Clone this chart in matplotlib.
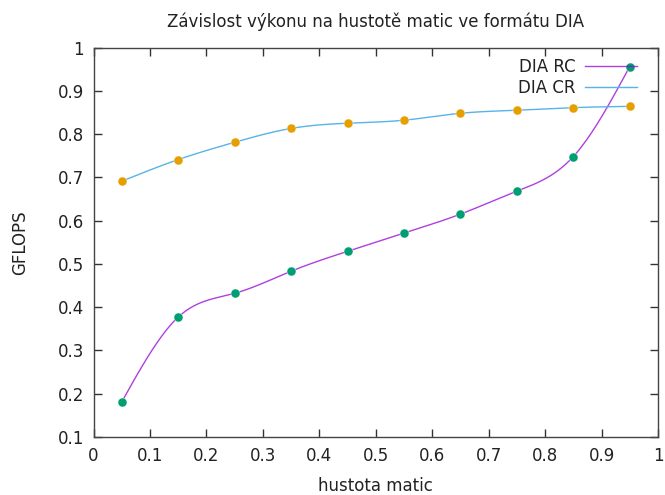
import numpy as np
import matplotlib
matplotlib.use("Agg")
import matplotlib.pyplot as plt

# hustota matic
density = [0.05, 0.15, 0.25, 0.35, 0.45, 0.55, 0.65, 0.75, 0.85, 0.95]
# GFLOPS
dia_rc = [0.181, 0.377, 0.432, 0.483, 0.529, 0.571, 0.615, 0.668, 0.748, 0.956]
dia_cr = [0.691, 0.741, 0.781, 0.813, 0.825, 0.832, 0.848, 0.855, 0.861, 0.864]


def natural_spline(x, y, n=300):
    # natural cubic spline, like gnuplot "smooth csplines"
    x = np.asarray(x, float)
    y = np.asarray(y, float)
    k = len(x)
    h = np.diff(x)
    A = np.zeros((k, k))
    b = np.zeros(k)
    A[0, 0] = 1
    A[-1, -1] = 1
    for i in range(1, k - 1):
        A[i, i - 1] = h[i - 1]
        A[i, i] = 2 * (h[i - 1] + h[i])
        A[i, i + 1] = h[i]
        b[i] = 6 * ((y[i + 1] - y[i]) / h[i] - (y[i] - y[i - 1]) / h[i - 1])
    M = np.linalg.solve(A, b)
    xs = np.linspace(x[0], x[-1], n)
    ys = np.empty(n)
    for j, t in enumerate(xs):
        i = min(np.searchsorted(x, t, side="right") - 1, k - 2)
        a = x[i + 1] - t
        c = t - x[i]
        ys[j] = (M[i] * a**3 + M[i + 1] * c**3) / (6 * h[i]) \
            + (y[i] / h[i] - M[i] * h[i] / 6) * a \
            + (y[i + 1] / h[i] - M[i + 1] * h[i] / 6) * c
    return xs, ys


plt.rcParams['font.family'] = ['DejaVu Sans']
fig = plt.figure(figsize=(6.65, 4.95), dpi=100)
ax = fig.add_axes([93.5 / 665, 1 - 437 / 495, (658 - 93.5) / 665, (437 - 47.5) / 495])

xs, ys = natural_spline(density, dia_rc)
ax.plot(xs, ys, color='#9400d3', lw=1.0, alpha=0.75, label='DIA RC')
xs, ys = natural_spline(density, dia_cr)
ax.plot(xs, ys, color='#56b4e9', lw=1.0, label='DIA CR')
ax.plot(density, dia_rc, 'o', color='#009e73', ms=6.5, mec='white', mew=0.3)
ax.plot(density, dia_cr, 'o', color='#e69f00', ms=6.5, mec='white', mew=0.3)

ax.set_xlim(0, 1)
ax.set_ylim(0.1, 1)
ax.set_xticks(np.arange(0, 1.01, 0.1))
ax.set_yticks(np.arange(0.1, 1.01, 0.1))
ax.set_xticklabels(['0', '0.1', '0.2', '0.3', '0.4', '0.5', '0.6', '0.7', '0.8', '0.9', '1'])
ax.set_yticklabels(['0.1', '0.2', '0.3', '0.4', '0.5', '0.6', '0.7', '0.8', '0.9', '1'])
ax.tick_params(direction='in', length=6, width=1, color='#333333', top=True, right=True,
               labelsize=12, labelcolor='#222222', pad=7)
for s in ax.spines.values():
    s.set_color('#444444')
    s.set_linewidth(1)

ax.set_title('Závislost výkonu na hustotě matic ve formátu DIA', fontsize=12, pad=15,
             color='#222222')
ax.set_xlabel('hustota matic', fontsize=12, labelpad=9, color='#222222')
ax.set_ylabel('GFLOPS', fontsize=12, labelpad=20, color='#222222')

leg = ax.legend(loc='upper right', frameon=False, markerfirst=False, fontsize=12,
                handlelength=3.1, handletextpad=0.55, labelspacing=0.2,
                borderaxespad=0.2, bbox_to_anchor=(0.98, 1.0))
for t in leg.get_texts():
    t.set_ha('right')
    t.set_color('#222222')

fig.savefig('out.png', dpi=100)
